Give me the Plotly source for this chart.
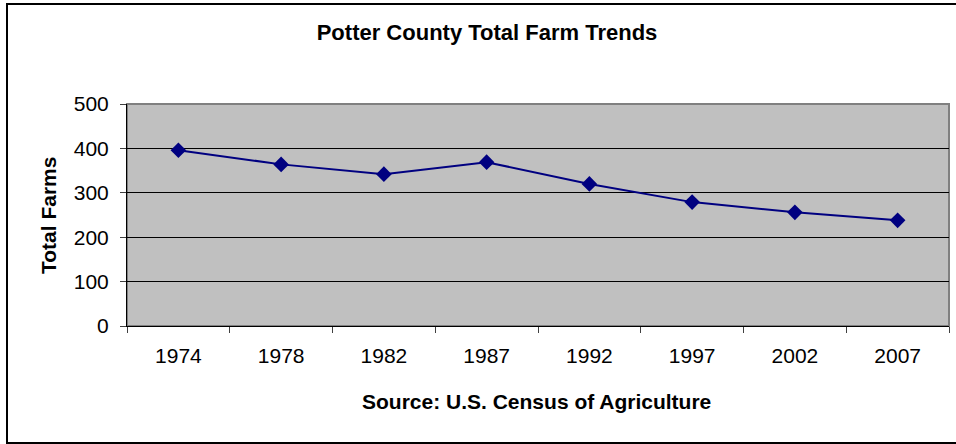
import plotly.graph_objects as go

years = ["1974", "1978", "1982", "1987", "1992", "1997", "2002", "2007"]
farms = [396, 364, 342, 369, 320, 279, 256, 238]

W, H = 956, 444
L, R, T, B = 127, 949, 104, 326

fig = go.Figure()
fig.add_trace(go.Scatter(
    x=years, y=farms, mode="lines+markers",
    line=dict(color="#000080", width=2),
    marker=dict(symbol="diamond", size=12, color="#000080"),
    cliponaxis=False, showlegend=False,
))

font = "Liberation Sans, Arial, sans-serif"
pw, ph = R - L, B - T

def px(x):
    return (x - L) / pw

def py(y):
    return (B - y) / ph

fig.update_layout(
    width=W, height=H,
    margin=dict(l=L, r=W - R, t=T, b=H - B, pad=0),
    paper_bgcolor="white",
    plot_bgcolor="#C0C0C0",
    font=dict(family=font, size=21, color="black"),
    title=dict(text="<b>Potter County Total Farm Trends</b>", x=487 / W, xanchor="center",
               y=1 - 32 / H, yanchor="middle", font=dict(size=22)),
    xaxis=dict(type="category", range=[-0.5, 7.5], showline=True, linecolor="black", linewidth=1,
               ticks="outside", tickson="boundaries", ticklen=6, tickcolor="#404040",
               showgrid=False, zeroline=False, ticklabelstandoff=11,
               tickfont=dict(size=21)),
    yaxis=dict(range=[0, 500], dtick=100, showline=True, linecolor="black", linewidth=1,
               ticks="outside", ticklen=6, tickcolor="#404040",
               gridcolor="black", gridwidth=1, zeroline=False, ticklabelstandoff=7,
               tickfont=dict(size=21)),
    annotations=[
        dict(text="<b>Source: U.S. Census of Agriculture</b>", xref="paper", yref="paper",
             x=px(536), y=py(401), xanchor="center", yanchor="middle", showarrow=False,
             font=dict(size=21)),
        dict(text="<b>Total Farms</b>", xref="paper", yref="paper", textangle=-90,
             x=px(48), y=py(216), xanchor="center", yanchor="middle", showarrow=False,
             font=dict(size=21)),
    ],
    shapes=[
        dict(type="rect", xref="paper", yref="paper", x0=0, x1=1, y0=0, y1=1,
             line=dict(color="#808080", width=2), layer="below"),
        dict(type="rect", xref="paper", yref="paper", x0=px(7), x1=px(965), y0=py(4), y1=py(443),
             line=dict(color="black", width=2)),
    ],
)

fig.write_html("out.html", config={"displayModeBar": False},
               post_script="document.body.style.margin='0';document.body.style.overflow='hidden';")
